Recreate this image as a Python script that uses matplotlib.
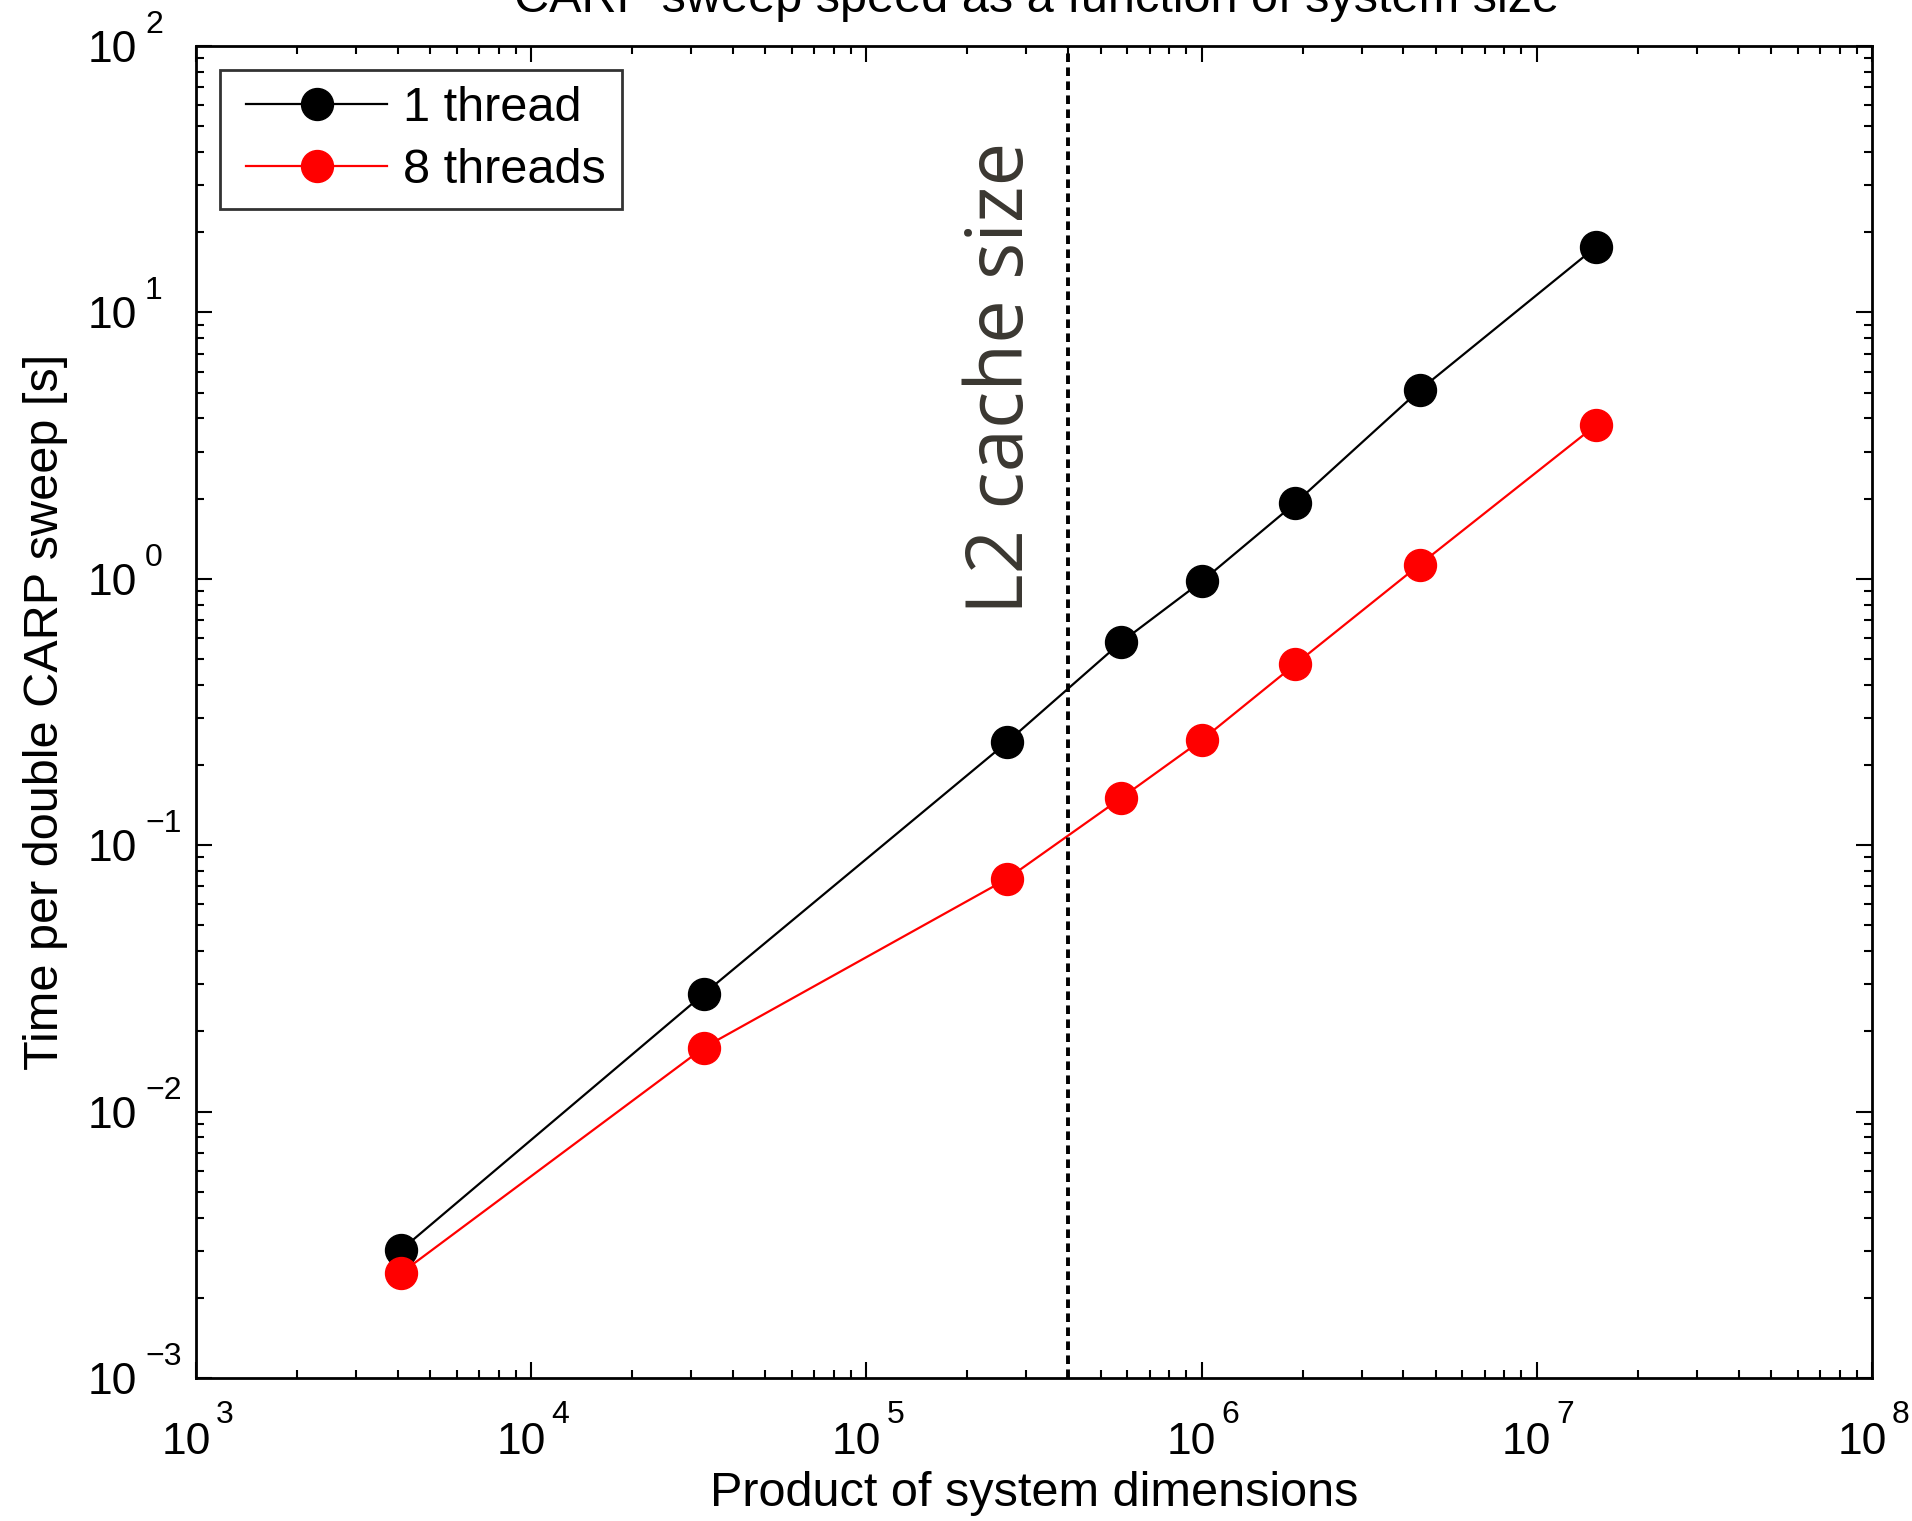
import matplotlib
matplotlib.use("Agg")
import matplotlib.pyplot as plt
from matplotlib.lines import Line2D
from matplotlib.legend_handler import HandlerLine2D
from matplotlib.ticker import LogLocator, NullFormatter, FixedLocator, FixedFormatter
from matplotlib.transforms import ScaledTranslation

plt.rcParams['font.family'] = ['Liberation Sans', 'DejaVu Sans']

# data
system_size = [4096, 32768, 262144, 574000, 1000000, 1900000, 4470000, 15000000]
time_1_thread = [0.00303, 0.0277, 0.243, 0.577, 0.977, 1.92, 5.11, 17.6]
time_8_threads = [0.00248, 0.0174, 0.0746, 0.150, 0.248, 0.477, 1.13, 3.77]
l2_cache = 4.0e5

# decade tick labels, drawn MATLAB style as "10" with a raised exponent
x_exponents = [3, 4, 5, 6, 7, 8]
y_exponents = [-3, -2, -1, 0, 1, 2]

fig = plt.figure(figsize=(19.12, 15.21), dpi=100)
ax = fig.add_axes([196 / 1912, 1 - 1378 / 1521, (1872 - 196) / 1912, (1378 - 46) / 1521])

ax.plot(system_size, time_1_thread, '-o', color='black', lw=1.6, ms=23, label='1 thread')
ax.plot(system_size, time_8_threads, '-o', color='red', lw=1.6, ms=23, label='8 threads')

ax.axvline(l2_cache, color='black', lw=2.8, dashes=(2.2, 1.4))
ax.text(2.55e5, 5.7, 'L2 cache size', rotation=90, ha='center', va='center',
        fontsize=56, color='#3a3731', family=['Open Sans', 'DejaVu Sans'])

ax.set_xscale('log')
ax.set_yscale('log')
ax.set_xlim(1e3, 1e8)
ax.set_ylim(1e-3, 1e2)

xt = [10.0 ** e for e in x_exponents]
yt = [10.0 ** e for e in y_exponents]
ax.xaxis.set_major_locator(FixedLocator(xt))
ax.yaxis.set_major_locator(FixedLocator(yt))
ax.xaxis.set_major_formatter(FixedFormatter(['10'] * len(xt)))
ax.yaxis.set_major_formatter(FixedFormatter(['10'] * len(yt)))
ax.xaxis.set_minor_locator(LogLocator(base=10, subs=range(2, 10), numticks=20))
ax.yaxis.set_minor_locator(LogLocator(base=10, subs=range(2, 10), numticks=20))
ax.xaxis.set_minor_formatter(NullFormatter())
ax.yaxis.set_minor_formatter(NullFormatter())

ax.tick_params(which='both', direction='in', top=True, right=True, width=1.5)
ax.tick_params(which='major', length=11.5, labelsize=32)
ax.tick_params(which='minor', length=5.5)
ax.tick_params(axis='y', which='major', pad=42.5)
ax.tick_params(axis='x', which='major', pad=31.7)
for sp in ax.spines.values():
    sp.set_linewidth(2)

# shift the x "10" a little left so "10"+exponent is centred on the tick
shift = ScaledTranslation(-10 / 100, 0, fig.dpi_scale_trans)
for lab in ax.xaxis.get_majorticklabels():
    lab.set_transform(lab.get_transform() + shift)

for e, t in zip(x_exponents, xt):
    ax.annotate(str(e).replace('-', '\u2212'), xy=(t, 0), xycoords=('data', 'axes fraction'),
                xytext=(14.4, -32.4), textcoords='offset points', ha='left', va='baseline',
                fontsize=23)
for e, t in zip(y_exponents, yt):
    ax.annotate(str(e).replace('-', '\u2212'), xy=(0, t), xycoords=('axes fraction', 'data'),
                xytext=(-36.7, 9.4), textcoords='offset points', ha='left', va='baseline',
                fontsize=23)

ax.set_xlabel('Product of system dimensions', fontsize=35, labelpad=6)
ax.set_ylabel('Time per double CARP sweep [s]', fontsize=35, labelpad=14)

fig.text(1037 / 1912, 1 - 12 / 1521, 'CARP sweep speed as a function of system size',
         ha='center', va='baseline', fontsize=35)

leg = ax.legend(loc='upper left', fontsize=35, handlelength=3.1, frameon=True,
                fancybox=False, edgecolor='black', borderaxespad=0.5, borderpad=0.33,
                labelspacing=0.35, handletextpad=0.33,
                handler_map={Line2D: HandlerLine2D(xpad=0.2)})
leg.get_frame().set_linewidth(2)

fig.savefig('out.png', dpi=100)
